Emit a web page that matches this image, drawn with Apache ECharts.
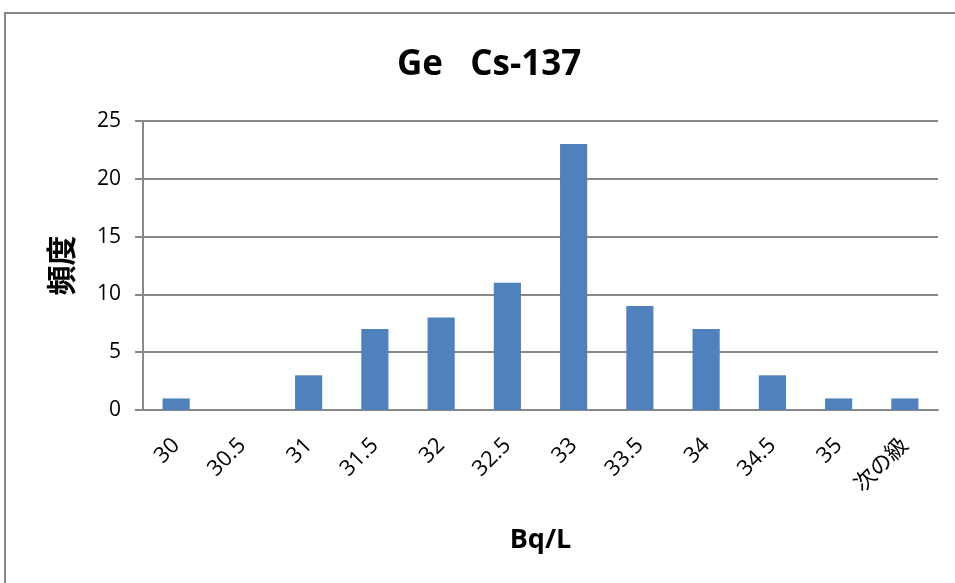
<!DOCTYPE html>
<html>
<head>
<meta charset="utf-8">
<script src="https://cdn.jsdelivr.net/npm/echarts@6/dist/echarts.min.js"></script>
<style>
  html, body { margin: 0; padding: 0; background: #fff; }
  #chart { width: 955px; height: 583px; }
</style>
</head>
<body>
<div id="chart"></div>
<script>
// Histogram of Cs-137 activity measured with a Ge detector
const categories = ['30', '30.5', '31', '31.5', '32', '32.5', '33', '33.5', '34', '34.5', '35', '次の級'];
const frequency = [1, 0, 3, 7, 8, 11, 23, 9, 7, 3, 1, 1];
const yTicks = { min: 0, max: 25, interval: 5 };

const FONT = '"Open Sans", "Noto Sans CJK JP", sans-serif';

const chart = echarts.init(document.getElementById('chart'));
chart.setOption({
  animation: false,
  backgroundColor: '#ffffff',
  graphic: [{
    type: 'rect',
    shape: { x: 5, y: 13, width: 1000, height: 640 },
    style: { fill: 'none', stroke: '#888888', lineWidth: 2 },
    silent: true
  }],
  title: {
    text: 'Ge   Cs-137',
    left: 392,
    top: 43,
    textStyle: { fontFamily: FONT, fontSize: 35, fontWeight: 'bold', color: '#000' }
  },
  grid: { left: 143, right: 17, top: 121, bottom: 173 },
  xAxis: {
    type: 'category',
    data: categories,
    name: 'Bq/L',
    nameLocation: 'middle',
    nameGap: 117,
    nameTextStyle: { fontFamily: FONT, fontSize: 27, fontWeight: 'bold', color: '#000' },
    axisLine: { lineStyle: { color: '#888888', width: 2 } },
    axisTick: { show: false },
    axisLabel: {
      interval: 0,
      rotate: 45,
      margin: 32,
      fontFamily: FONT,
      fontSize: 22,
      color: '#000'
    }
  },
  yAxis: {
    type: 'value',
    min: yTicks.min,
    max: yTicks.max,
    interval: yTicks.interval,
    name: '頻度',
    nameLocation: 'middle',
    nameGap: 65,
    nameRotate: 90,
    nameTextStyle: { fontFamily: FONT, fontSize: 30, fontWeight: 'bold', color: '#000' },
    axisLine: { show: true, lineStyle: { color: '#888888', width: 2 } },
    axisTick: { show: true, length: 8, lineStyle: { color: '#888888', width: 2 } },
    axisLabel: { fontFamily: FONT, fontSize: 21, color: '#000', margin: 22 },
    splitLine: { lineStyle: { color: '#888888', width: 2 } }
  },
  series: [{
    type: 'bar',
    data: frequency,
    barCategoryGap: '59%',
    itemStyle: { color: '#4f81bd' }
  }]
});
</script>
</body>
</html>
